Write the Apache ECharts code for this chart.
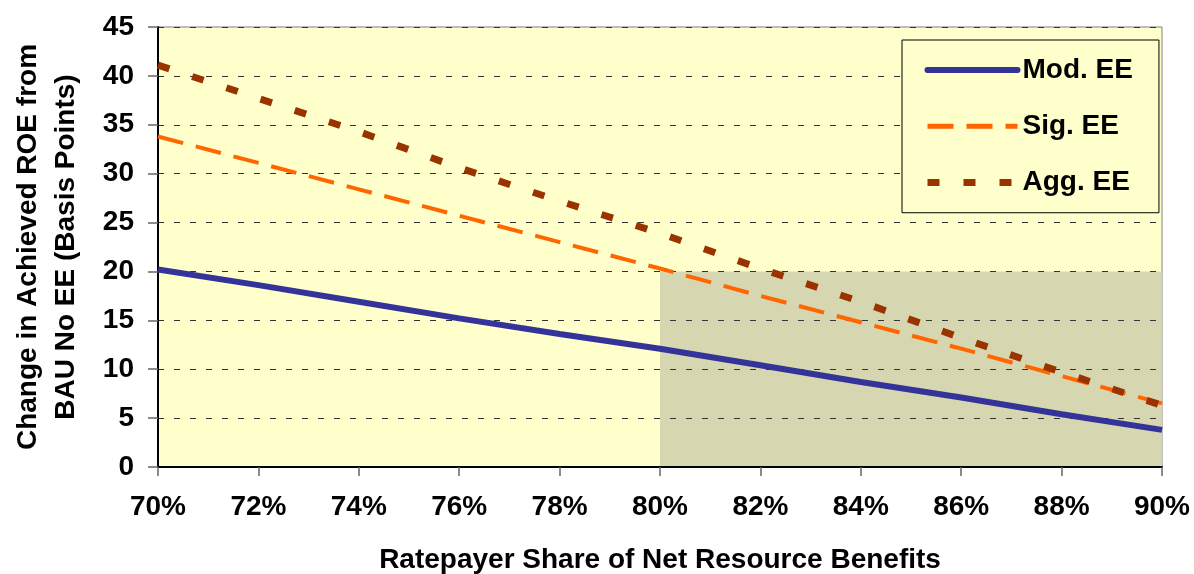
<!DOCTYPE html>
<html style="height: 100%">
    <head>
        <title>ROE Change vs Ratepayer Share</title>
        <script type="text/javascript" src="https://fastly.jsdelivr.net/npm/echarts@6.0.0/dist/echarts.min.js"></script>
<script type="module">

// ratepayer share (percent)
let sharePct = [70, 72, 74, 76, 78, 80, 82, 84, 86, 88, 90];

// change in achieved ROE (basis points)
let modEE = [20.2, 18.6, 16.9, 15.2, 13.6, 12.1, 10.4, 8.7, 7.1, 5.4, 3.8];
let sigEE = [33.8, 31.1, 28.4, 25.7, 23.0, 20.3, 17.5, 14.8, 12.1, 9.3, 6.5];
let aggEE = [41.1, 37.7, 34.3, 30.6, 27.2, 23.9, 20.3, 16.9, 13.2, 9.7, 6.3];

// shaded region
let shadeX = [80, 90];
let shadeY = [0, 20];

let Pair = (xs, ys) => xs.map((x, i) => [x, ys[i]]);

let chart = echarts.init(document.getElementById('target'));
window.addEventListener("resize", chart.resize);

let font = "'Liberation Sans', Arial, sans-serif";
let fs = 28;

let option = {
    animation: false,
    textStyle: {
        fontFamily: font,
    },
    grid: {
        left: 158,
        right: 32,
        top: 27,
        bottom: 107,
        containLabel: false,
        outerBoundsMode: "none",
        show: true,
        backgroundColor: "#FFFFCC",
        borderColor: "#808080",
        borderWidth: 1,
    },
    legend: {
        orient: "vertical",
        left: 902,
        top: 40,
        padding: [6, 26, 6, 22],
        itemWidth: 90,
        itemHeight: 24,
        itemGap: 8,
        backgroundColor: "#FFFFCC",
        borderColor: "#000",
        borderWidth: 1,
        itemStyle: { opacity: 0 },
        textStyle: {
            fontSize: fs,
            fontWeight: "bold",
            color: "#000",
            fontFamily: font,
        },
        data: [
            { name: "Mod. EE", lineStyle: { width: 6, cap: "round" } },
            { name: "Sig. EE", lineStyle: { width: 5 } },
            { name: "Agg. EE", lineStyle: { width: 7 } },
        ],
    },
    xAxis: {
        type: "value",
        min: 70,
        max: 90,
        interval: 2,
        z: 1.5,
        name: "Ratepayer Share of Net Resource Benefits",
        nameLocation: "middle",
        nameGap: 69,
        nameMoveOverlap: false,
        nameTextStyle: {
            fontSize: fs,
            fontWeight: "bold",
            color: "#000",
            fontFamily: font,
        },
        axisLine: {
            lineStyle: { color: "#000", width: 2 },
        },
        axisTick: {
            show: true,
            length: 9,
            lineStyle: { color: "#666", width: 1.5 },
        },
        axisLabel: {
            margin: 16,
            fontSize: fs,
            fontWeight: "bold",
            color: "#000",
            formatter: (v) => v + "%",
        },
        splitLine: { show: false },
    },
    yAxis: {
        type: "value",
        min: 0,
        max: 45,
        interval: 5,
        z: 1.5,
        name: "Change in Achieved ROE from\nBAU No EE (Basis Points)",
        nameLocation: "middle",
        nameGap: 73,
        nameMoveOverlap: false,
        nameTextStyle: {
            fontSize: fs,
            fontWeight: "bold",
            color: "#000",
            lineHeight: 38,
            fontFamily: font,
        },
        axisLine: {
            show: true,
            lineStyle: { color: "#000", width: 2 },
        },
        axisTick: {
            show: true,
            length: 10,
            lineStyle: { color: "#666", width: 1.5 },
        },
        axisLabel: {
            margin: 24,
            fontSize: fs,
            fontWeight: "bold",
            color: "#000",
        },
        splitLine: {
            show: true,
            lineStyle: { color: "#333", width: 1, type: [6, 10] },
        },
    },
    series: [
        {
            name: "shade",
            type: "line",
            data: [],
            z: 1,
            silent: true,
            markArea: {
                silent: true,
                itemStyle: { color: "#D6D6B0" },
                data: [[
                    { coord: [shadeX[0], shadeY[0]] },
                    { coord: [shadeX[1], shadeY[1]] },
                ]],
            },
        },
        {
            name: "Mod. EE",
            type: "line",
            data: Pair(sharePct, modEE),
            symbol: "none",
            color: "#333399",
            lineStyle: { color: "#333399", width: 6 },
        },
        {
            name: "Sig. EE",
            type: "line",
            data: Pair(sharePct, sigEE),
            symbol: "none",
            color: "#FF6600",
            lineStyle: { color: "#FF6600", width: 4, type: [26, 13] },
        },
        {
            name: "Agg. EE",
            type: "line",
            data: Pair(sharePct, aggEE),
            symbol: "none",
            color: "#993300",
            lineStyle: { color: "#993300", width: 7, type: [12, 24] },
        },
    ],
};

chart.setOption(option);

</script>
    </head>
    <body style="height: 100%; margin: 0; background: #fff">
        <div id="target" style="width: 1194px; height: 574px"></div>
    </body>
</html>
